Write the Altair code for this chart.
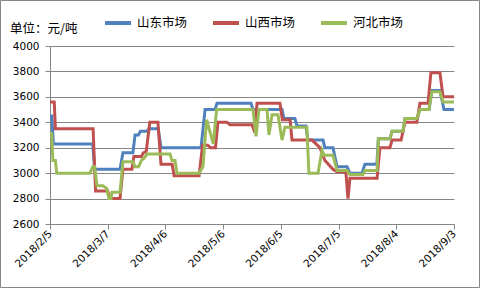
import altair as alt
import pandas as pd

series_names = ["山东市场", "山西市场", "河北市场"]
series_colors = ["#4F81BD", "#C0504D", "#9BBB59"]
unit_label = "单位：元/吨"

# day offsets from 2018/2/5 and prices (元/吨)
sd_day = [0, 0.9, 1.8, 22.2, 23.2, 36.4, 37.9, 43.1, 44.2, 46, 47, 50.4, 51.4, 56.2, 57.7,
          78.5, 80.6, 85.8, 86.8, 104.5, 105.5, 120.6, 121.6, 127.3, 128.4, 133, 134.1, 141.9,
          142.9, 147.1, 149.2, 154.4, 155.9, 162.2, 163.7, 169.9, 170.7, 176.7, 177.8, 183.5,
          184.5, 190.7, 192.3, 197, 198.5, 202.7, 204.8, 210]
sd_val = [3450, 3450, 3230, 3230, 3030, 3030, 3160, 3160, 3300, 3300, 3330, 3330, 3350, 3350, 3200,
          3200, 3500, 3500, 3550, 3550, 3500, 3500, 3430, 3430, 3370, 3370, 3260, 3260,
          3200, 3200, 3050, 3050, 3000, 3000, 3070, 3070, 3270, 3270, 3330, 3330,
          3430, 3430, 3500, 3500, 3650, 3650, 3500, 3500]

sx_day = [0, 2.2, 2.8, 22.4, 23.7, 30, 31.2, 36.4, 37.9, 42.6, 43.6, 47.5, 48.5, 50, 51.9,
          56.1, 57.7, 63.5, 64.5, 77.5, 79.3, 81.9, 83.5, 86, 87.3, 92, 93.6, 105, 106.5, 107.6,
          119.5, 120.8, 124.8, 125.8, 136.2, 140.3, 142.9, 147.1, 149.2, 153.8, 154.9, 155.9,
          170, 171.5, 176.7, 177.8, 182.5, 184.5, 190.7, 192.3, 196.5, 198, 202.7, 204.3, 210]
sx_val = [3560, 3560, 3350, 3350, 2860, 2860, 2800, 2800, 3030, 3030, 3130, 3130, 3160, 3170, 3400,
          3400, 3070, 3070, 2980, 2980, 3220, 3220, 3200, 3200, 3400, 3400, 3380, 3380, 3320, 3550,
          3550, 3420, 3420, 3260, 3260, 3200, 3100, 3030, 3010, 3010, 2800, 2960,
          2960, 3200, 3200, 3260, 3260, 3400, 3400, 3550, 3550, 3790, 3790, 3600, 3600]

hb_day = [0, 0.9, 1.5, 2.8, 3.5, 20.8, 22.2, 23.2, 24.4, 27.5, 29.5, 30.6, 31.7, 32.2, 36.4,
          37.9, 43.1, 44.2, 46, 47.5, 49, 50.4, 62.4, 63.4, 65, 66, 77.5, 79.5, 81.4, 84.9,
          86.6, 105.5, 107.1, 108.6, 112.8, 113.8, 115.4, 118.5, 120.6, 122.1, 133.5, 134.6,
          139.3, 141.4, 142.5, 147.1, 149.2, 154.4, 155.9, 162.7, 163.7, 170, 170.7, 176.7,
          177.8, 183.5, 184.5, 190.7, 192.3, 197, 198.5, 202.7, 204.3, 210]
hb_val = [3310, 3310, 3100, 3100, 3000, 3000, 3050, 3050, 2900, 2900, 2880, 2800, 2800, 2850, 2850,
          3090, 3090, 3050, 3050, 3100, 3120, 3150, 3150, 3100, 3100, 3000, 3000, 3050, 3420, 3230,
          3500, 3500, 3290, 3500, 3500, 3300, 3460, 3460, 3260, 3360, 3360, 3000,
          3000, 3180, 3140, 3140, 3020, 3020, 2990, 2990, 3020, 3020, 3270, 3270,
          3330, 3330, 3430, 3430, 3500, 3500, 3640, 3640, 3560, 3560]

x_tick_days = [0, 30, 60, 90, 120, 150, 180, 210]
y_ticks = [2600, 2800, 3000, 3200, 3400, 3600, 3800, 4000]

rows = []
for name, days, vals in zip(series_names, [sd_day, sx_day, hb_day], [sd_val, sx_val, hb_val]):
    for d, v in zip(days, vals):
        rows.append({"series": name, "day": d, "value": v})
df = pd.DataFrame(rows)

GRAY = "#868686"
NUMFONT = "DejaVu Sans"
CJK = "Noto Sans CJK SC"

lines = alt.Chart(df).mark_line(strokeWidth=3).encode(
    x=alt.X("day:Q",
            scale=alt.Scale(domain=[0, 210], nice=False, zero=False),
            axis=alt.Axis(values=x_tick_days,
                          labelExpr="timeFormat(datetime(2018, 1, 5 + datum.value), '%Y/%-m/%-d')",
                          labelAngle=-45, labelAlign="right", labelBaseline="middle",
                          labelPadding=3, grid=False, tickSize=5, tickColor=GRAY,
                          domainColor=GRAY, labelFont=NUMFONT, labelFontSize=10.5,
                          labelColor="black", title=None)),
    y=alt.Y("value:Q",
            scale=alt.Scale(domain=[2600, 4000], nice=False, zero=False),
            axis=alt.Axis(values=y_ticks, format="d", grid=True, gridColor=GRAY,
                          tickSize=5, tickColor=GRAY, domainColor=GRAY, labelPadding=6,
                          labelFont=NUMFONT, labelFontSize=10.5, labelColor="black",
                          title=None)),
    color=alt.Color("series:N",
                    scale=alt.Scale(domain=series_names, range=series_colors),
                    sort=series_names,
                    legend=alt.Legend(orient="none", legendX=53, legendY=-38,
                                      direction="horizontal", title=None,
                                      symbolType="stroke", symbolSize=676,
                                      symbolStrokeWidth=4, labelFont=CJK,
                                      labelFontSize=12.5, labelColor="black",
                                      labelOffset=4, columnPadding=17)),
)

frame = alt.Chart(pd.DataFrame({"a": [0]})).mark_rect(filled=False, stroke=GRAY, strokeWidth=1).encode(
    x=alt.value(-49.5), x2=alt.value(429.5), y=alt.value(-45.5), y2=alt.value(241.5)
)

unit_text = alt.Chart(pd.DataFrame({"t": [unit_label]})).mark_text(
    font=CJK, fontSize=12.5, color="black", align="left", baseline="alphabetic"
).encode(x=alt.value(-40), y=alt.value(-13), text="t:N")

chart = alt.layer(frame, lines, unit_text).properties(
    width=404, height=178,
    autosize=alt.AutoSizeParams(type="none"),
    padding={"left": 50, "top": 46, "right": 27, "bottom": 65},
    background="white",
).configure_view(stroke=None)

chart.save("out.html", embed_options={"renderer": "svg", "actions": False})
